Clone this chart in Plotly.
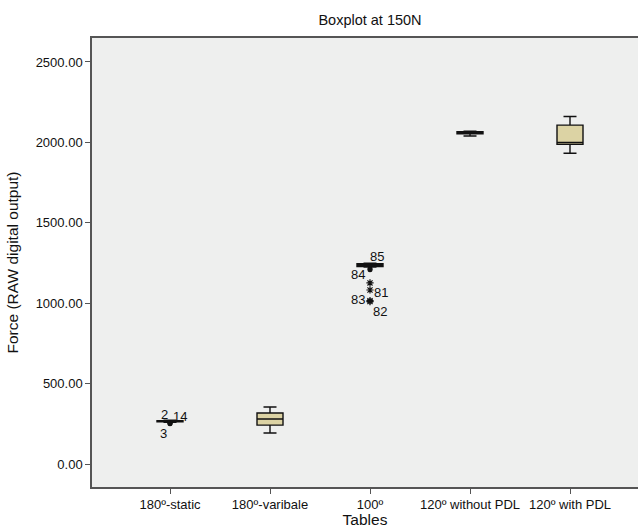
import plotly.graph_objects as go

# ---- data ----
categories = ["180º-static", "180º-varibale", "100º", "120º without PDL", "120º with PDL"]
q1 = [262, 242, 1228, 2054, 1988]
median = [266, 280, 1237, 2060, 2000]
q3 = [270, 317, 1245, 2066, 2107]
lower_whisker = [260, 193, 1224, 2040, 1932]
upper_whisker = [272, 354, 1248, 2070, 2161]

# outliers (mild = circle, extreme = asterisk)
out_cat = ["180º-static", "180º-static", "180º-static", "100º", "100º", "100º", "100º", "100º", "100º"]
out_val = [256, 254, 250, 1214, 1208, 1126, 1082, 1016, 1010]
out_id = ["2", "14", "3", "85", "84", "", "81", "83", "82"]
out_kind = ["mild", "mild", "mild", "mild", "mild", "extreme", "extreme", "extreme", "extreme"]

y_ticks = [0, 500, 1000, 1500, 2000, 2500]

# ---- style ----
label_offsets = [(-6, 8), (10, 7), (-7, -10), (7, 12), (-12, -5), (0, 0), (11, -2), (-12, 1), (10, -10)]
FONT = "Liberation Sans, Arial, sans-serif"

fig = go.Figure()
for i, c in enumerate(categories):
    fig.add_trace(go.Box(
        x=[c], q1=[q1[i]], median=[median[i]], q3=[q3[i]],
        lowerfence=[lower_whisker[i]], upperfence=[upper_whisker[i]],
        fillcolor="#DCD3A4", line=dict(color="#111111", width=1.4),
        width=0.26, whiskerwidth=0.5, boxpoints=False, showlegend=False,
        hoverinfo="skip",
    ))

mild_x = [c for c, k in zip(out_cat, out_kind) if k == "mild"]
mild_y = [v for v, k in zip(out_val, out_kind) if k == "mild"]
ext_x = [c for c, k in zip(out_cat, out_kind) if k == "extreme"]
ext_y = [v for v, k in zip(out_val, out_kind) if k == "extreme"]
fig.add_trace(go.Scatter(x=mild_x, y=mild_y, mode="markers", showlegend=False,
                         marker=dict(symbol="circle", size=5, color="#111111")))
fig.add_trace(go.Scatter(x=ext_x, y=ext_y, mode="markers", showlegend=False,
                         marker=dict(symbol="asterisk-open", size=6, color="#111111",
                                     line=dict(color="#111111", width=1.2))))

for c, v, t, (dx, dy) in zip(out_cat, out_val, out_id, label_offsets):
    if t:
        fig.add_annotation(x=c, y=v, text=t, showarrow=False, xshift=dx, yshift=dy,
                           font=dict(family=FONT, size=13, color="#111111"))

fig.update_layout(
    width=638, height=528,
    margin=dict(l=92, r=0, t=38, b=41),
    paper_bgcolor="white", plot_bgcolor="#EEEFEE",
    title=dict(text="Boxplot at 150N", x=(92 + 648) / 2 / 638, xanchor="center",
               y=1 - 20 / 528, yanchor="middle",
               font=dict(family=FONT, size=14.5, color="#111111")),
    font=dict(family=FONT, size=13, color="#111111"),
)
fig.update_xaxes(
    type="category", categoryorder="array", categoryarray=categories,
    range=[-0.78, 4.68], showgrid=False, zeroline=False,
    showline=True, linecolor="#555555", linewidth=1.5, mirror=True,
    ticks="outside", ticklen=5, tickcolor="#555555", tickwidth=1.2,
    tickfont=dict(family=FONT, size=13, color="#111111"),
    title=dict(text="Tables", font=dict(family=FONT, size=15.5, color="#111111"), standoff=2),
)
fig.update_yaxes(
    range=[-143, 2649], showgrid=False, zeroline=False,
    tickvals=y_ticks, ticktext=[f"{v:.2f}" for v in y_ticks],
    showline=True, linecolor="#555555", linewidth=1.5,
    ticks="outside", ticklen=5, tickcolor="#555555", tickwidth=1.2,
    tickfont=dict(family=FONT, size=13, color="#111111"),
    title=dict(text="Force (RAW digital output)", font=dict(family=FONT, size=15.5, color="#111111"), standoff=13),
)

fig.write_html("out.html")
